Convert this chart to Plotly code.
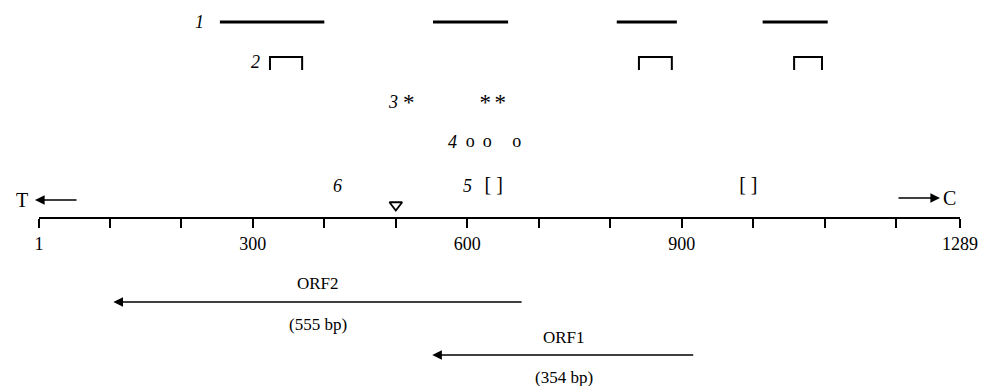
import plotly.graph_objects as go

# ---------------- data (positions in bp along the 1..1289 map) ----------------
seq_start = 1
seq_end = 1289
tick_vals = [1, 100, 200, 300, 400, 500, 600, 700, 800, 900, 1000, 1100, 1200, 1289]
tick_labels = ["1", "", "", "300", "", "", "600", "", "", "900", "", "", "", "1289"]

# track 1: segments
seg1_start = [254, 552, 809, 1013]
seg1_end = [400, 657, 893, 1104]
# track 2: bracket-shaped regions
br2_start = [324, 840, 1057]
br2_end = [369, 886, 1096]
# track 3: asterisk sites
star3_pos = [518, 625, 646]
# track 4: circle sites
circ4_pos = [604, 628, 669]
# track 5: bracketed sites
brk5_pos = [637, 993]
# marker (triangle) site
tri_pos = [500]

# track labels
track_labels = ["1", "2", "3", "4", "5", "6"]
track_label_x = [226, 304, 496, 579, 600, 419]

# ORFs (tail -> tip, reading leftwards)
orf_names = ["ORF2", "ORF1"]
orf_sizes = ["(555 bp)", "(354 bp)"]
orf_from = [678, 918]
orf_to = [105, 551]

# ---------------- layout constants ----------------
W, H = 982, 386
ML, MR = 39, 22
FONT = "Liberation Serif, Times New Roman, serif"
FS = 18
Y_T1, Y_T2_TOP, Y_T2_BOT, Y_T2_LAB = 22, 57, 70, 62
Y_T3, Y_T4, Y_T5, Y_TRI, Y_AXIS = 102, 142, 186, 205, 218
Y_ORF = [302, 355]
Y_ORF_NAME = [283, 337]
Y_ORF_SIZE = [324, 377]
track_label_y = [Y_T1, Y_T2_LAB, Y_T3, Y_T4, Y_T5, Y_T5]

fig = go.Figure()

# track 1 segments
for s, e in zip(seg1_start, seg1_end):
    fig.add_trace(go.Scatter(x=[s, e], y=[Y_T1, Y_T1], mode="lines",
                             line=dict(color="black", width=3), hoverinfo="skip"))
# track 2 brackets
for s, e in zip(br2_start, br2_end):
    fig.add_trace(go.Scatter(x=[s, s, e, e], y=[Y_T2_BOT, Y_T2_TOP, Y_T2_TOP, Y_T2_BOT],
                             mode="lines", line=dict(color="black", width=2),
                             hoverinfo="skip"))
# track 3 asterisks
fig.add_trace(go.Scatter(x=star3_pos, y=[Y_T3 + 2] * len(star3_pos), mode="text",
                         text=["*"] * len(star3_pos),
                         textfont=dict(family=FONT, size=FS + 5, color="black"),
                         hoverinfo="skip"))
# track 4 circles
fig.add_trace(go.Scatter(x=circ4_pos, y=[Y_T4] * len(circ4_pos), mode="text",
                         text=["o"] * len(circ4_pos),
                         textfont=dict(family=FONT, size=FS, color="black"),
                         hoverinfo="skip"))
# track 5 brackets
fig.add_trace(go.Scatter(x=brk5_pos, y=[Y_T5] * len(brk5_pos), mode="text",
                         text=["[ ]"] * len(brk5_pos),
                         textfont=dict(family=FONT, size=FS + 2, color="black"),
                         hoverinfo="skip"))
# triangle site
fig.add_trace(go.Scatter(x=tri_pos, y=[Y_TRI] * len(tri_pos), mode="markers",
                         marker=dict(symbol="triangle-down-open", size=11,
                                     color="black", line=dict(width=1.8, color="black")),
                         hoverinfo="skip"))

annotations = []
# track labels (italic)
for lab, x, y in zip(track_labels, track_label_x, track_label_y):
    annotations.append(dict(x=x, y=y, xref="x", yref="y", text=f"<i>{lab}</i>",
                            showarrow=False, font=dict(family=FONT, size=FS, color="black"),
                            xanchor="center", yanchor="middle"))
# ORF arrows and labels
for name, size, a, b, y, yn, ys in zip(orf_names, orf_sizes, orf_from, orf_to,
                                       Y_ORF, Y_ORF_NAME, Y_ORF_SIZE):
    annotations.append(dict(x=b, y=y, xref="x", yref="y", ax=a, ay=y, axref="x", ayref="y",
                            text="", showarrow=True, arrowhead=2, arrowsize=1.2,
                            arrowwidth=1.6, arrowcolor="black"))
    mid = (a + b) / 2
    annotations.append(dict(x=mid, y=yn, xref="x", yref="y", text=name, showarrow=False,
                            font=dict(family=FONT, size=FS - 1, color="black")))
    annotations.append(dict(x=mid, y=ys, xref="x", yref="y", text=size, showarrow=False,
                            font=dict(family=FONT, size=FS - 1, color="black")))

# T / C direction marks
pw = W - ML - MR
def px2paper(px):
    return (px - ML) / pw

annotations.append(dict(x=px2paper(35), y=200, xref="paper", yref="y", ax=43, ay=0,
                        axref="pixel", ayref="pixel", text="", showarrow=True,
                        arrowhead=2, arrowsize=1.2, arrowwidth=1.6, arrowcolor="black"))
annotations.append(dict(x=px2paper(14), y=200, xref="paper", yref="y", text="T",
                        showarrow=False, font=dict(family=FONT, size=FS + 2, color="black")))
annotations.append(dict(x=px2paper(940), y=198, xref="paper", yref="y", ax=-43, ay=0,
                        axref="pixel", ayref="pixel", text="", showarrow=True,
                        arrowhead=2, arrowsize=1.2, arrowwidth=1.6, arrowcolor="black"))
annotations.append(dict(x=px2paper(958), y=198, xref="paper", yref="y", text="C",
                        showarrow=False, font=dict(family=FONT, size=FS + 2, color="black")))

fig.update_layout(
    width=W, height=H,
    margin=dict(l=ML, r=MR, t=0, b=0),
    paper_bgcolor="white", plot_bgcolor="white",
    showlegend=False,
    annotations=annotations,
    xaxis=dict(range=[seq_start, seq_end], anchor="free", position=1 - Y_AXIS / H,
               showline=True, linecolor="black", linewidth=2,
               ticks="outside", ticklen=9, tickwidth=1.8, tickcolor="black",
               tickvals=tick_vals, ticktext=tick_labels,
               tickfont=dict(family=FONT, size=FS, color="black"),
               showgrid=False, zeroline=False, fixedrange=True),
    yaxis=dict(range=[H, 0], visible=False, showgrid=False, zeroline=False,
               fixedrange=True),
)

fig.write_html("out.html", config={"displayModeBar": False},
               post_script="document.body.style.margin='0';document.body.style.overflow='hidden';")
